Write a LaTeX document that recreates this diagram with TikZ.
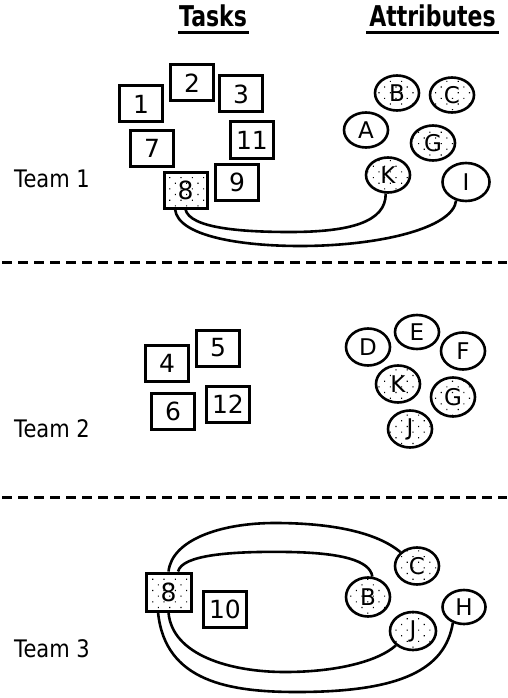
\documentclass[tikz,border=0pt]{standalone}
\usepackage{fontspec}
\setmainfont{DejaVu Sans}
\usetikzlibrary{shapes.geometric,patterns.meta}

\tikzset{
  taskbox/.style={draw, line width=3pt, minimum width=43pt, minimum height=36pt,
    inner sep=0pt, font=\fontsize{25}{25}\selectfont},
  attrnode/.style={draw, ellipse, line width=2.6pt, minimum width=44pt, minimum height=35pt,
    inner sep=0pt, font=\fontsize{23}{23}\selectfont},
  dotted fill/.style={pattern={Dots[distance=8pt,radius=0.8pt,angle=45]}},
  heading/.style={font=\fontsize{22}{22}\bfseries\selectfont, inner sep=0pt},
  teamlabel/.style={font=\fontsize{21}{21}\selectfont, inner sep=0pt},
  link/.style={line width=2.6pt},
  separator/.style={line width=3pt, dash pattern=on 10pt off 6pt},
}

\begin{document}
\begin{tikzpicture}[x=1pt, y={(0pt,-1pt)}]
\useasboundingbox (0,0) rectangle (507,698);

% column headings
\node[heading, anchor=base] (htasks) at (213,27) {\scalebox{1}[1.3]{Tasks}};
\node[heading, anchor=base] (hattr) at (432.5,27) {\scalebox{1}[1.3]{Attributes}};
\draw[line width=3pt] (178,33) -- (249,33);
\draw[line width=3pt] (366,33) -- (499,33);

% separators between teams
\draw[separator] (2,262) -- (507,262);
\draw[separator] (2,497) -- (507,497);

% team labels
\node[teamlabel] (team1) at (52,179) {\scalebox{1}[1.15]{Team 1}};
\node[teamlabel] (team2) at (52,429) {\scalebox{1}[1.15]{Team 2}};
\node[teamlabel] (team3) at (52,649) {\scalebox{1}[1.15]{Team 3}};

% ---------- Team 1 ----------
\node[taskbox] (t1b1) at (141,104) {1};
\node[taskbox] (t1b2) at (192,83) {2};
\node[taskbox] (t1b3) at (241,94) {3};
\node[taskbox] (t1b7) at (152,148) {7};
\node[taskbox] (t1b11) at (252,140) {11};
\node[taskbox] (t1b9) at (237,182) {9};
\node[taskbox, dotted fill] (t1b8) at (185.5,190) {8};

\node[attrnode, dotted fill] (t1b) at (397,93) {B};
\node[attrnode, dotted fill] (t1c) at (452,95) {C};
\node[attrnode] (t1a) at (366,130) {A};
\node[attrnode, dotted fill] (t1g) at (433,143) {G};
\node[attrnode, dotted fill] (t1k) at (388,175) {K};
\node[attrnode, minimum width=47pt, minimum height=38pt] (t1i) at (466,182) {I};

\draw[link] (t1b8.south) .. controls (190,228) and (240,232) .. (290,232)
  .. controls (350,232) and (386,222) .. (t1k.-97);
\draw[link] (t1b8.-118) .. controls (178,236) and (240,246) .. (300,246)
  .. controls (380,246) and (453,228) .. (t1i.-118);

% ---------- Team 2 ----------
\node[taskbox] (t2b4) at (167,363) {4};
\node[taskbox] (t2b5) at (218,348) {5};
\node[taskbox] (t2b6) at (173,411) {6};
\node[taskbox] (t2b12) at (228,404) {12};

\node[attrnode, minimum height=34pt] (t2e) at (417,332) {E};
\node[attrnode, minimum height=37pt] (t2d) at (368,347) {D};
\node[attrnode, minimum height=37pt] (t2f) at (463,351) {F};
\node[attrnode, dotted fill, minimum height=37pt] (t2k) at (398,384) {K};
\node[attrnode, dotted fill, minimum height=39pt] (t2g) at (453,397) {G};
\node[attrnode, dotted fill, minimum height=37pt] (t2j) at (410,429) {J};

% ---------- Team 3 ----------
\node[taskbox, dotted fill, minimum width=45pt, minimum height=38pt] (t3b8) at (168.5,592) {8};
\node[taskbox] (t3b10) at (225,609) {10};

\node[attrnode, dotted fill, minimum height=37pt] (t3c) at (417,566) {C};
\node[attrnode, dotted fill, minimum height=39pt] (t3b) at (368,597) {B};
\node[attrnode, minimum width=43pt, minimum height=34pt] (t3h) at (464,607) {H};
\node[attrnode, dotted fill, minimum width=46pt, minimum height=38pt] (t3j) at (413,631) {J};

\draw[link] (t3b8.north) .. controls (172,540) and (220,523) .. (275,523)
  .. controls (340,523) and (380,535) .. (t3c.140);
\draw[link] (t3b8.65) .. controls (182,555) and (230,551) .. (290,552)
  .. controls (340,553) and (370,560) .. (t3b.78);
\draw[link] (t3b8.south) .. controls (172,655) and (230,672) .. (285,672)
  .. controls (340,672) and (380,660) .. (t3j.-140);
\draw[link] (t3b8.-117) .. controls (165,682) and (230,692) .. (297,692)
  .. controls (400,692) and (445,670) .. (t3h.-125);
\end{tikzpicture}
\end{document}
